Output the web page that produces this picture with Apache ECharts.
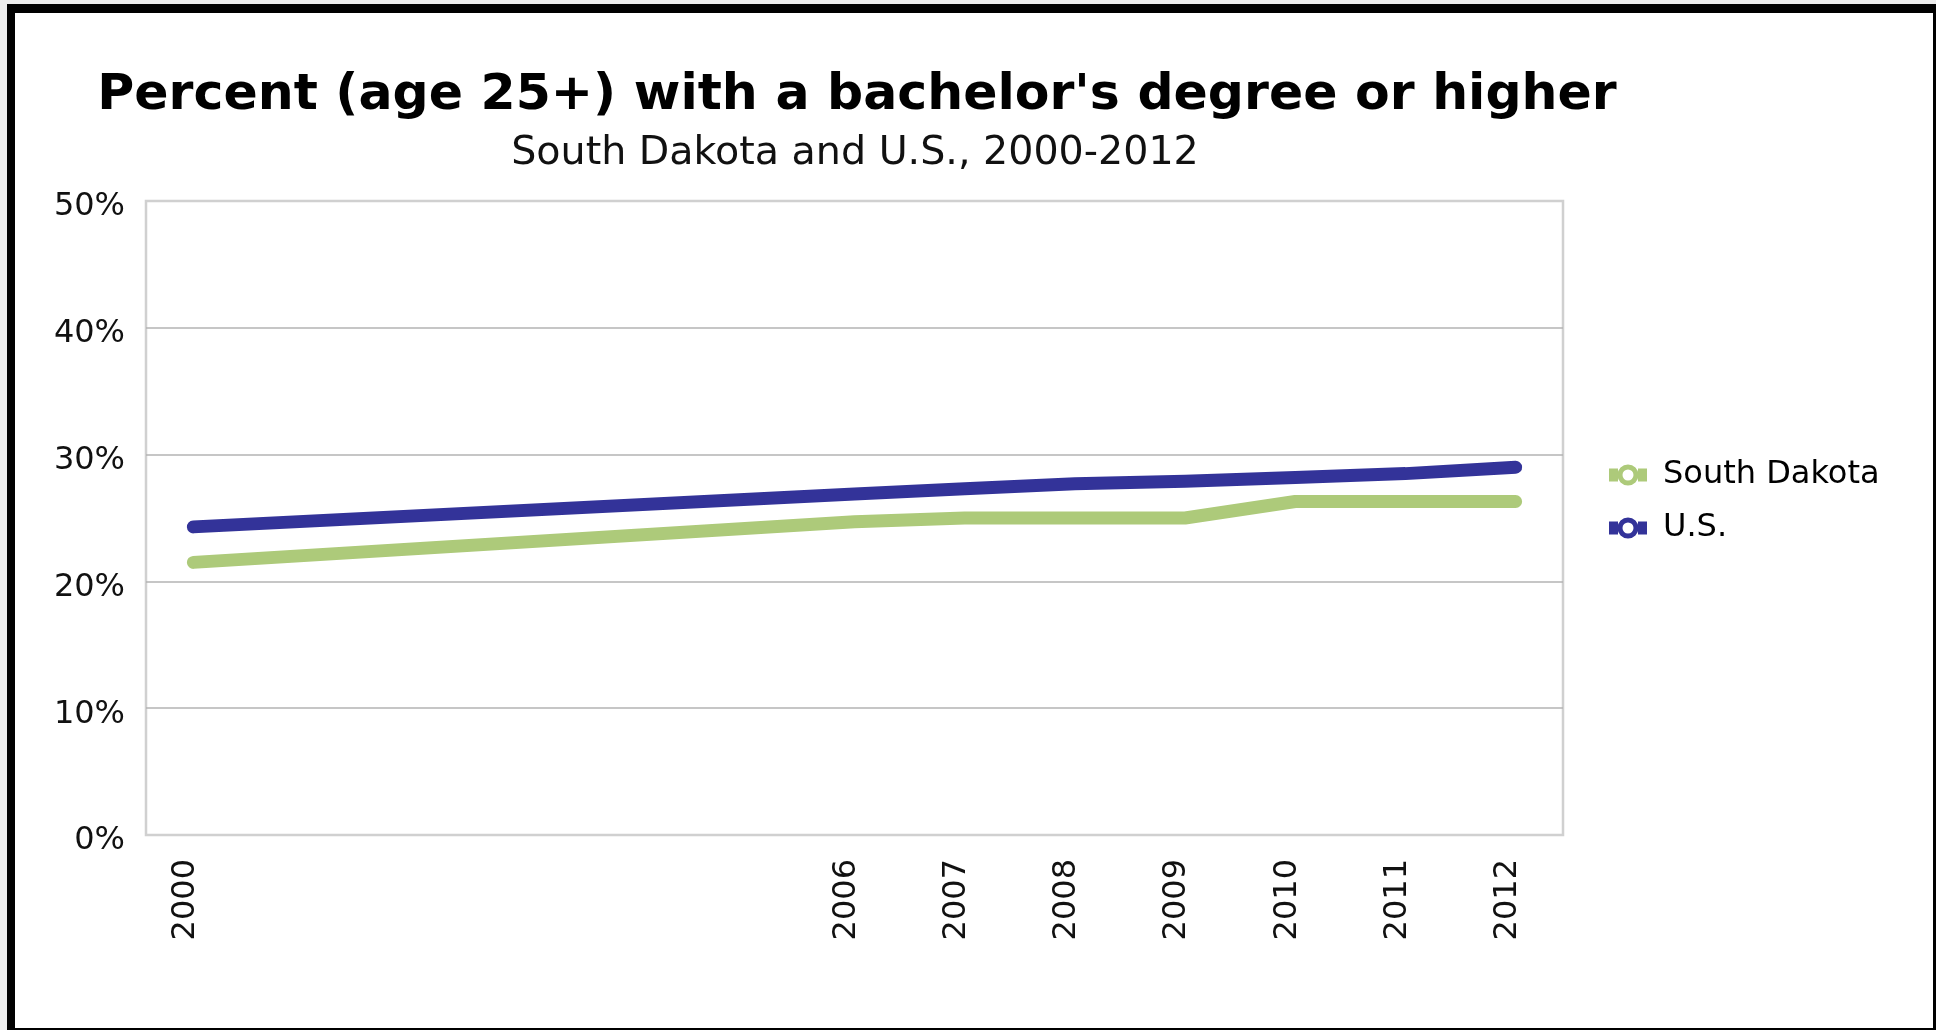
<!DOCTYPE html>
<html>
<head>
<meta charset="utf-8">
<script src="https://cdn.jsdelivr.net/npm/echarts@6/dist/echarts.min.js"></script>
<style>
  html, body { margin: 0; padding: 0; width: 1936px; height: 1030px; overflow: hidden; background: #ececec; }
  #frame { position: absolute; left: 7px; top: 4px; width: 1945px; height: 1040px; background: #000; }
  #inner { position: absolute; left: 15px; top: 13px; width: 1918px; height: 1015px; background: #fff; }
  #chart { position: absolute; left: 0; top: 0; width: 1936px; height: 1030px; }
</style>
</head>
<body>
<div id="frame"></div>
<div id="inner"></div>
<div id="chart"></div>
<script>
// ---- data ----
const years = [2000, 2006, 2007, 2008, 2009, 2010, 2011, 2012];
const southDakota = [21.5, 24.7, 25.0, 25.0, 25.0, 26.3, 26.3, 26.3];
const unitedStates = [24.3, 26.9, 27.3, 27.7, 27.9, 28.2, 28.5, 29.0];
const seriesNames = ['South Dakota', 'U.S.'];
const seriesColors = ['#adca7a', '#333399'];
const yTicks = [0, 10, 20, 30, 40, 50];
const titleText = "Percent (age 25+) with a bachelor's degree or higher";
const subtitleText = 'South Dakota and U.S., 2000-2012';

const FONT = 'DejaVu Sans';
const pairs = (vals) => years.map((y, i) => [y, vals[i]]);
// legend glyph: short bar - hollow ring - short bar
const LEGEND_ICON = 'path://M0 5.5 H9 V18.5 H0 Z M29 5.5 H38 V18.5 H29 Z ' +
  'M8.5 12 A10.5 10.5 0 1 1 29.5 12 A10.5 10.5 0 1 1 8.5 12 Z ' +
  'M13.5 12 A5.5 5.5 0 1 0 24.5 12 A5.5 5.5 0 1 0 13.5 12 Z';

const chart = echarts.init(document.getElementById('chart'), null, { renderer: 'canvas' });
chart.setOption({
  backgroundColor: 'transparent',
  animation: false,
  title: [
    {
      text: titleText,
      left: 852, top: 65, textAlign: 'center',
      textStyle: { fontFamily: FONT, fontSize: 50.5, fontWeight: 'bold', color: '#000' }
    },
    {
      text: subtitleText,
      left: 850, top: 129, textAlign: 'center',
      textStyle: { fontFamily: FONT, fontSize: 39.6, fontWeight: 'normal', color: '#111' }
    }
  ],
  legend: {
    orient: 'vertical',
    left: 1604, top: 454,
    itemWidth: 38, itemHeight: 21, itemGap: 21,
    data: seriesNames.map((n, i) => ({ name: n, icon: LEGEND_ICON, itemStyle: { color: seriesColors[i] } })),
    textStyle: { fontFamily: FONT, fontSize: 32, color: '#000', lineHeight: 32, padding: [0, 0, 0, 11] }
  },
  grid: {
    left: 146, top: 201, width: 1417, height: 634,
    show: true, borderColor: '#d0d0d0', borderWidth: 2.5, backgroundColor: 'transparent',
    containLabel: false
  },
  xAxis: {
    type: 'value',
    min: 1999.57, max: 2012.43,
    axisLine: { show: false },
    axisTick: { show: false },
    splitLine: { show: false },
    axisLabel: {
      customValues: years,
      rotate: 90,
      margin: 24,
      verticalAlign: 'bottom',
      lineHeight: 16,
      fontFamily: FONT, fontSize: 32, color: '#111',
      formatter: (v) => String(v)
    }
  },
  yAxis: {
    type: 'value',
    min: yTicks[0], max: yTicks[yTicks.length - 1], interval: 10,
    axisLine: { show: false },
    axisTick: { show: false },
    splitLine: { show: true, lineStyle: { color: ['transparent', '#b3b3b3', '#b3b3b3', '#b3b3b3', '#b3b3b3', 'transparent'], width: 1.5 } },
    axisLabel: {
      margin: 21,
      verticalAlign: 'top',
      lineHeight: 12,
      fontFamily: FONT, fontSize: 32, color: '#111',
      formatter: '{value}%'
    }
  },
  series: [
    {
      name: seriesNames[0], type: 'line', data: pairs(southDakota),
      showSymbol: false, symbol: 'emptyCircle', color: seriesColors[0],
      lineStyle: { width: 13, color: seriesColors[0], cap: 'round', join: 'round' }
    },
    {
      name: seriesNames[1], type: 'line', data: pairs(unitedStates),
      showSymbol: false, symbol: 'emptyCircle', color: seriesColors[1],
      lineStyle: { width: 13, color: seriesColors[1], cap: 'round', join: 'round' }
    }
  ]
});
</script>
</body>
</html>
